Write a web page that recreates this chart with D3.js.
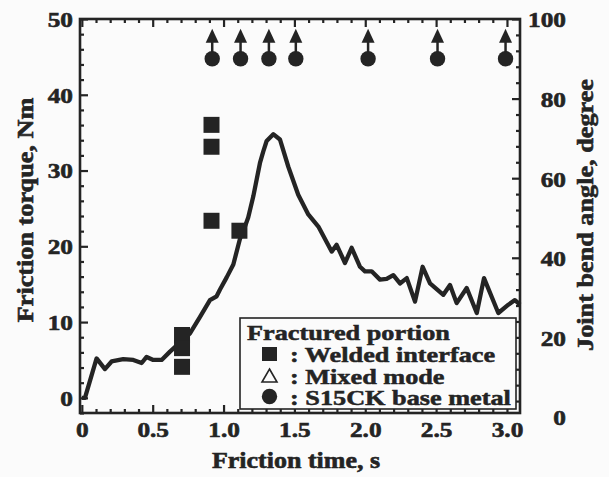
<!DOCTYPE html>
<html>
<head>
<meta charset="utf-8">
<script src="https://cdn.jsdelivr.net/npm/d3@7"></script>
<style>
  body { margin: 0; background: #fbfbfb; }
  svg { display: block; }
  text { paint-order: stroke; }
</style>
</head>
<body>
<svg width="609" height="477"></svg>
<script>
// friction torque curve (left axis)
const timeS = [0, 0.022, 0.104, 0.163, 0.21, 0.292, 0.363, 0.422, 0.457, 0.504, 0.563, 0.622,
  0.763, 0.834, 0.904, 0.951, 0.975, 1.022, 1.069, 1.116, 1.139, 1.174, 1.21, 1.257, 1.28, 1.304,
  1.351, 1.398, 1.457, 1.527, 1.598, 1.669, 1.763, 1.798, 1.857, 1.904, 1.963, 1.998, 2.045, 2.104,
  2.151, 2.198, 2.245, 2.293, 2.351, 2.405, 2.457, 2.551, 2.598, 2.645, 2.716, 2.787, 2.838, 2.939,
  3.01, 3.056, 3.092]
const torqueNm = [0, 0, 5.2, 3.8, 4.8, 5.1, 5.0, 4.6, 5.4, 5.0, 5.0, 6.1,
  8.5, 10.7, 12.9, 13.4, 14.3, 15.9, 17.6, 21.0, 22.0, 23.8, 26.6, 31.0, 32.5, 33.9,
  34.8, 34.1, 30.5, 26.8, 24.2, 22.6, 19.3, 20.2, 17.8, 19.8, 17.3, 16.7, 16.7, 15.6,
  15.7, 16.2, 15.1, 15.8, 12.7, 17.3, 15.1, 13.6, 14.9, 12.5, 14.5, 11.2, 15.8, 11.2,
  12.3, 12.9, 12.3]

// joint bend angle (right axis)
const weldTime = [0.707, 0.707, 0.707, 0.915, 0.915, 0.915, 1.112]
const weldAngle = [20.6, 17.3, 12.6, 73.4, 67.9, 49.3, 46.8]
const baseTime = [0.92, 1.12, 1.32, 1.51, 2.02, 2.51, 2.99]
const baseAngle = [90, 90, 90, 90, 90, 90, 90]

const xTicks = [0, 0.5, 1.0, 1.5, 2.0, 2.5, 3.0]
const xTickLabels = ['0', '0.5', '1.0', '1.5', '2.0', '2.5', '3.0']
const yTicks = [0, 10, 20, 30, 40, 50]
const y2Ticks = [0, 20, 40, 60, 80, 100]
const legendLabels = ['Welded interface', 'Mixed mode', 'S15CK base metal']

const ink = '#242424'
const font = '"Liberation Serif", "Times New Roman", Times, serif'

const svg = d3.select('svg')
const frame = {left: 80, right: 520, top: 19, bottom: 413}

const x = d3.scaleLinear().domain([-0.013, 3.092]).range([frame.left, frame.right])
const y = d3.scaleLinear().domain([-2, 50]).range([frame.bottom, frame.top])
const y2 = d3.scaleLinear().domain([1, 100]).range([frame.bottom, frame.top])

const xMinor = d3.range(0, 3.05, 0.1).filter(v => Math.abs(v * 2 - Math.round(v * 2)) > 1e-6)
const yMinor = d3.range(-2, 50, 2).filter(v => v % 10 !== 0)
const y2Minor = d3.range(4, 100, 4).filter(v => v % 20 !== 0)

const kTick = 1.15

function styleAxis (sel) {
  sel.select('.domain').remove()
  sel.attr('font-family', font).attr('font-size', 22).attr('font-weight', 'bold').attr('color', ink)
  sel.selectAll('line').attr('stroke-width', 2.2)
  sel.selectAll('text').attr('stroke', ink).attr('stroke-width', 0.6)
}

// minor ticks
svg.append('g').attr('transform', `translate(0,${frame.bottom})`)
  .call(d3.axisBottom(x).tickValues(xMinor).tickSize(-4).tickFormat(''))
  .call(styleAxis)
svg.append('g').attr('transform', `translate(0,${frame.top})`)
  .call(d3.axisTop(x).tickValues(xMinor).tickSize(-4).tickFormat(''))
  .call(styleAxis)
svg.append('g').attr('transform', `translate(${frame.left},0)`)
  .call(d3.axisLeft(y).tickValues(yMinor).tickSize(-4).tickFormat(''))
  .call(styleAxis)
svg.append('g').attr('transform', `translate(${frame.right},0)`)
  .call(d3.axisRight(y2).tickValues(y2Minor).tickSize(-4).tickFormat(''))
  .call(styleAxis)

// major ticks + labels
svg.append('g').attr('transform', `translate(0,${frame.bottom})`)
  .call(d3.axisBottom(x).tickValues(xTicks).tickSize(-8).tickFormat((d, i) => xTickLabels[i]))
  .call(styleAxis)
  .selectAll('text').attr('y', 24).attr('dy', 0).attr('transform', `scale(${kTick},1)`)
svg.append('g').attr('transform', `translate(0,${frame.top})`)
  .call(d3.axisTop(x).tickValues(xTicks).tickSize(-8).tickFormat(''))
  .call(styleAxis)
svg.append('g').attr('transform', `translate(${frame.left},0)`)
  .call(d3.axisLeft(y).tickValues(yTicks).tickSize(-8))
  .call(styleAxis)
  .selectAll('text').attr('x', -7 / kTick).attr('dy', '0.33em').attr('transform', `scale(${kTick},1)`)
svg.append('g').attr('transform', `translate(${frame.right},0)`)
  .call(d3.axisRight(y2).tickValues(y2Ticks).tickSize(-8))
  .call(styleAxis)
  .call(s => s.selectAll('.tick').filter(d => d < 1).select('line').remove())
  .selectAll('text').attr('text-anchor', 'end').attr('x', 46 / kTick).attr('dy', '0.36em')
  .attr('transform', `scale(${kTick},1)`)

// torque curve
const line = d3.line()
  .x((d, i) => x(timeS[i]))
  .y((d) => y(d))

svg.append('path')
  .datum(torqueNm)
  .attr('fill', 'none')
  .attr('stroke', ink)
  .attr('stroke-width', 4.3)
  .attr('stroke-linejoin', 'round')
  .attr('d', line)

// welded interface squares
svg.append('g').selectAll('rect')
  .data(weldAngle)
  .join('rect')
  .attr('x', (d, i) => x(weldTime[i]) - 8)
  .attr('y', (d) => y2(d) - 8)
  .attr('width', 16)
  .attr('height', 16)
  .attr('fill', ink)

// base metal circles with upward arrows (not broken)
const base = svg.append('g').selectAll('g')
  .data(baseAngle)
  .join('g')
  .attr('transform', (d, i) => `translate(${x(baseTime[i])},${y2(d)})`)
base.append('line').attr('y1', -6).attr('y2', -17).attr('stroke', ink).attr('stroke-width', 2.5)
base.append('path').attr('d', 'M0,-30L6.5,-16L-6.5,-16Z').attr('fill', ink)
base.append('circle').attr('r', 7.7).attr('fill', ink)

// frame
svg.append('rect')
  .attr('x', frame.left).attr('y', frame.top)
  .attr('width', frame.right - frame.left).attr('height', frame.bottom - frame.top)
  .attr('fill', 'none').attr('stroke', ink).attr('stroke-width', 2.6)

// legend
const lg = svg.append('g')
lg.append('rect')
  .attr('x', 240).attr('y', 318).attr('width', 276).attr('height', 91)
  .attr('fill', '#fbfbfb').attr('stroke', ink).attr('stroke-width', 1.6)
const kLeg = 1.25
lg.append('text')
  .attr('transform', `translate(247,340) scale(${kLeg},1)`)
  .attr('font-family', font).attr('font-size', 21).attr('font-weight', 'bold')
  .attr('fill', ink).attr('stroke', ink).attr('stroke-width', 0.5)
  .text('Fractured portion')
lg.append('rect').attr('x', 262).attr('y', 347).attr('width', 15).attr('height', 14).attr('fill', ink)
lg.append('path').attr('d', 'M269.5,369L277,382L262,382Z').attr('fill', 'none').attr('stroke', ink).attr('stroke-width', 1.6)
lg.append('circle').attr('cx', 269.5).attr('cy', 396.5).attr('r', 7.7).attr('fill', ink)
lg.selectAll('text.item')
  .data(legendLabels)
  .join('text')
  .attr('class', 'item')
  .attr('transform', (d, i) => `translate(290,${362 + i * 21.5}) scale(${kLeg},1)`)
  .attr('font-family', font).attr('font-size', 21).attr('font-weight', 'bold')
  .attr('fill', ink).attr('stroke', ink).attr('stroke-width', 0.5)
  .text((d) => ': ' + d)

// axis titles
function title (txt, transform) {
  svg.append('text')
    .attr('transform', transform)
    .attr('text-anchor', 'middle')
    .attr('font-family', font).attr('font-size', 23).attr('font-weight', 'bold')
    .attr('fill', ink).attr('stroke', ink).attr('stroke-width', 0.6)
    .text(txt)
}
title('Friction time, s', 'translate(296,468) scale(1.13,1)')
title('Friction torque, Nm', 'translate(33,210) rotate(-90) scale(1.14,1)')
title('Joint bend angle, degree', 'translate(593,215) rotate(-90) scale(1.14,1)')
</script>
</body>
</html>
